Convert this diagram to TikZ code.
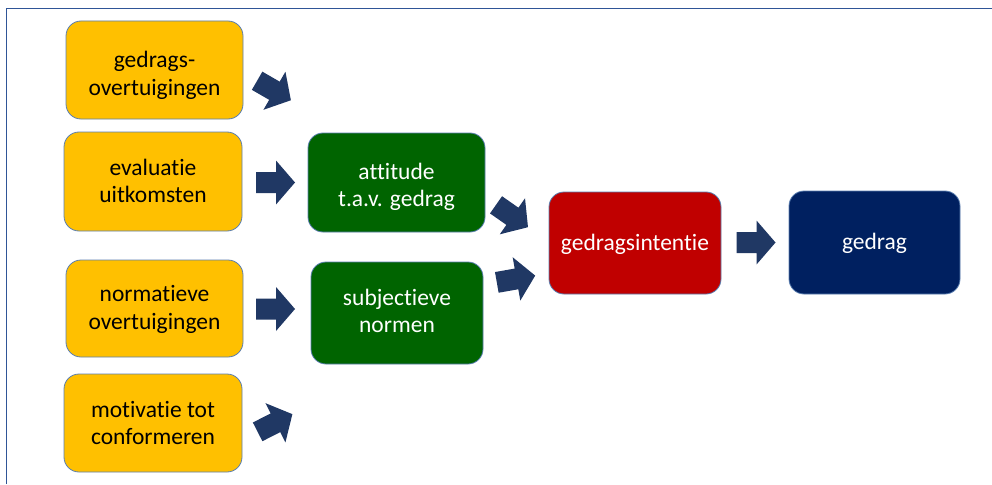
\documentclass[tikz,border=0pt]{standalone}
\usepackage{fontspec}
\setmainfont{Carlito}[Ligatures={NoCommon}]
\definecolor{amber}{HTML}{FFC000}
\definecolor{leaf}{RGB}{0,100,0}
\definecolor{crimson}{HTML}{C00000}
\definecolor{navy}{HTML}{002060}
\definecolor{arrowblue}{HTML}{203864}
\definecolor{edgeblue}{HTML}{5B7FB0}
\definecolor{framecol}{HTML}{2F5597}
% two centred lines; #3 is the height held above the first baseline
\newcommand\twoline[3]{\rule{0pt}{#3pt}#1\\#2\rule[-6pt]{0pt}{6pt}}
% one line with fixed height and depth
\newcommand\oneline[1]{\rule[-6pt]{0pt}{26pt}#1}
\tikzset{
  box/.style={draw=edgeblue, line width=0.8pt, rounded corners=15pt,
    align=center, inner sep=0pt, font=\fontsize{23.5}{27.5}\selectfont},
  yellowbox/.style={box, fill=amber, text=black},
  greenbox/.style={box, fill=leaf, text=white},
  redbox/.style={box, fill=crimson, text=white},
  navybox/.style={box, fill=navy, text=white},
  barrow/.pic={
    \fill[arrowblue] (-19.5,-10.5) -- (0.5,-10.5) -- (0.5,-22) -- (19.5,0)
      -- (0.5,22) -- (0.5,10.5) -- (-19.5,10.5) -- cycle;
  }
}
\begin{document}
\begin{tikzpicture}[x=1pt,y=-1pt]
  \useasboundingbox (0,0) rectangle (992,484);
  \fill[white] (0,0) rectangle (992,484);
  % frame along the top and left edges
  \draw[framecol, line width=1.3pt] (6.5,484) -- (6.5,8.5) -- (992,8.5);

  % input boxes
  \node[yellowbox, minimum width=177pt, minimum height=98pt] (beliefs) at (154.5,70)
    {\twoline{gedrags-}{overtuigingen}{29.5}};
  \node[yellowbox, minimum width=178pt, minimum height=99pt] (evaluation) at (153,181.5)
    {\twoline{evaluatie}{uitkomsten}{21}};
  \node[yellowbox, minimum width=177pt, minimum height=97pt] (normbeliefs) at (154.5,308.5)
    {\twoline{normatieve}{overtuigingen}{20}};
  \node[yellowbox, minimum width=178pt, minimum height=98pt] (motivation) at (153,423)
    {\twoline{motivatie tot}{conformeren}{21.5}};

  % intermediate boxes
  \node[greenbox, minimum width=177pt, minimum height=99pt] (attitude) at (396.5,182.5)
    {\twoline{attitude}{t.a.v. gedrag}{26.5}};
  \node[greenbox, minimum width=172pt, minimum height=102pt] (subjnorm) at (397,313)
    {\twoline{subjectieve}{normen}{18}};

  % outcome boxes
  \node[redbox, minimum width=172pt, minimum height=102pt] (intention) at (635,243)
    {\oneline{gedragsintentie}};
  \node[navybox, minimum width=171pt, minimum height=103pt] (behaviour) at (874.5,242.5)
    {\oneline{gedrag}};

  % block arrows
  \pic[rotate=-30] at (274,90.5) {barrow};
  \pic at (275.5,182.5) {barrow};
  \pic at (275.5,309) {barrow};
  \pic[rotate=27] at (275,423) {barrow};
  \pic[rotate=-35] at (512,216) {barrow};
  \pic[rotate=10] at (516,279) {barrow};
  \pic at (756,242.5) {barrow};
\end{tikzpicture}
\end{document}
